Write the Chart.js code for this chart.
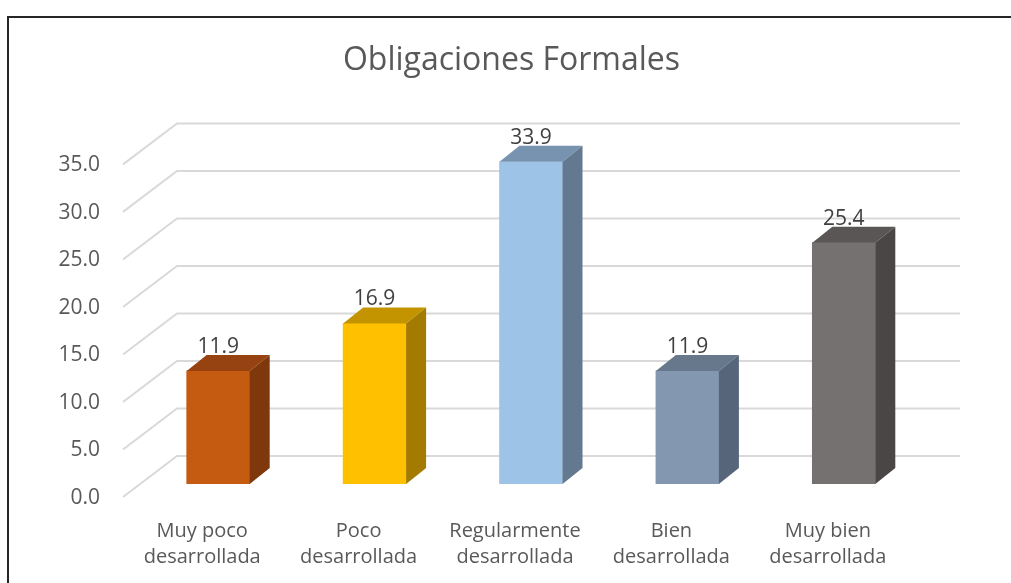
<!DOCTYPE html>
<html>
<head>
<meta charset="utf-8">
<script src="https://cdn.jsdelivr.net/npm/chart.js@4"></script>
<style>
  html, body { margin: 0; padding: 0; background: #fff; overflow: hidden; }
  #wrap { position: relative; width: 1011px; height: 583px; }
  #frame { position: absolute; left: 7px; top: 16px; width: 2000px; height: 2000px;
           border-left: 2px solid #262626; border-top: 2px solid #262626; }
  canvas { position: absolute; left: 0; top: 0; }
</style>
</head>
<body>
<div id="wrap">
  <div id="frame"></div>
  <canvas id="chart" width="1011" height="583"></canvas>
</div>
<script>
  const categories = [
    ["Muy poco", "desarrollada"],
    ["Poco", "desarrollada"],
    ["Regularmente", "desarrollada"],
    ["Bien", "desarrollada"],
    ["Muy bien", "desarrollada"]
  ];
  const values = [11.9, 16.9, 33.9, 11.9, 25.4];
  const frontColors = ["#c55a11", "#ffc000", "#9dc3e6", "#8497b0", "#767171"];
  const topColors = ["#974211", "#c39300", "#7893b0", "#67778c", "#5a5656"];
  const sideColors = ["#7f380b", "#a37b00", "#627990", "#56657a", "#4a4646"];
  const yMin = 0, yMax = 35, yStep = 5;

  // depth of the 3D walls and of the bars, in pixels
  const wall = { fx: -17, fy: 13, bx: 37, by: -28 };
  const depth = { dx: 20, dy: -16 };

  Chart.defaults.font.family = "'Open Sans', sans-serif";

  const depthGrid = {
    id: "depthGrid",
    beforeDatasetsDraw(chart) {
      const { ctx, chartArea: a, scales: { y } } = chart;
      ctx.save();
      ctx.strokeStyle = "#d9d9d9";
      ctx.lineWidth = 2;
      y.ticks.forEach(t => {
        const py = y.getPixelForValue(t.value);
        ctx.beginPath();
        ctx.moveTo(a.left + wall.fx, py + wall.fy);
        ctx.lineTo(a.left + wall.bx, py + wall.by);
        ctx.lineTo(a.right + 38, py + wall.by);
        ctx.stroke();
      });
      ctx.restore();
    }
  };

  const bars3d = {
    id: "bars3d",
    afterDatasetsDraw(chart) {
      const ctx = chart.ctx;
      const meta = chart.getDatasetMeta(0);
      ctx.save();
      meta.data.forEach((bar, i) => {
        const l = bar.x - bar.width / 2, r = bar.x + bar.width / 2;
        const t = bar.y, b = bar.base;
        ctx.fillStyle = topColors[i];
        ctx.beginPath();
        ctx.moveTo(l, t);
        ctx.lineTo(l + depth.dx, t + depth.dy);
        ctx.lineTo(r + depth.dx, t + depth.dy);
        ctx.lineTo(r, t);
        ctx.closePath();
        ctx.fill();
        ctx.fillStyle = sideColors[i];
        ctx.beginPath();
        ctx.moveTo(r, t);
        ctx.lineTo(r + depth.dx, t + depth.dy);
        ctx.lineTo(r + depth.dx, b + depth.dy);
        ctx.lineTo(r, b);
        ctx.closePath();
        ctx.fill();

        ctx.fillStyle = "#404040";
        ctx.font = "21px 'Open Sans', sans-serif";
        ctx.textAlign = "center";
        ctx.textBaseline = "alphabetic";
        ctx.fillText(values[i].toFixed(1), bar.x, t - 18);
      });
      ctx.restore();
    }
  };

  new Chart(document.getElementById("chart"), {
    type: "bar",
    data: {
      labels: categories,
      datasets: [{
        data: values,
        backgroundColor: frontColors,
        barThickness: 63
      }]
    },
    options: {
      responsive: false,
      animation: false,
      devicePixelRatio: 1,
      layout: { padding: { left: 12, right: 0, top: 0, bottom: 0 } },
      plugins: {
        legend: { display: false },
        tooltip: { enabled: false },
        title: {
          display: true,
          text: "Obligaciones Formales",
          color: "#595959",
          font: { size: 32, weight: "normal" },
          padding: { top: 42, bottom: 71 }
        }
      },
      scales: {
        x: {
          grid: { display: false },
          border: { display: false },
          ticks: {
            color: "#595959",
            font: { size: 20, lineHeight: 1.3 },
            padding: 26,
            labelOffset: -16,
            maxRotation: 0
          },
          afterFit(axis) { axis.height = 99; }
        },
        y: {
          min: yMin,
          max: yMax,
          grid: { display: false, drawTicks: false },
          border: { display: false },
          ticks: {
            stepSize: yStep,
            color: "#595959",
            font: { size: 21 },
            padding: 40,
            labelOffset: 14,
            callback: v => v.toFixed(1)
          },
          afterFit(axis) { axis.width = 128; }
        },
        // empty right-hand axis that only reserves the space right of the bars
        yRight: {
          position: "right",
          grid: { display: false, drawTicks: false },
          border: { display: false },
          ticks: { display: false },
          afterFit(axis) { axis.width = 89; }
        }
      }
    },
    plugins: [depthGrid, bars3d]
  });
</script>
</body>
</html>
